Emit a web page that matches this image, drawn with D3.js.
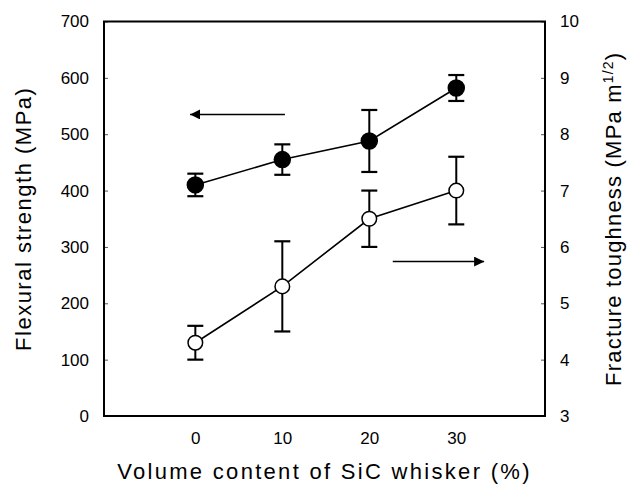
<!DOCTYPE html>
<html>
<head>
<meta charset="utf-8">
<script src="https://cdn.jsdelivr.net/npm/d3@7"></script>
<style>
  body { margin: 0; background: #fff; }
  text { font-family: Arial, "Liberation Sans", sans-serif; fill: #000; }
</style>
</head>
<body>
<div id="chart"></div>
<script>
// values
var categories = [0, 10, 20, 30];
var strength = [410, 455, 488, 582];
var strengthErr = [20, 27, 55, 23];
var toughness = [4.3, 5.3, 6.5, 7.0];
var toughnessErr = [0.3, 0.8, 0.5, 0.6];
var leftTicks = [0, 100, 200, 300, 400, 500, 600, 700];
var rightTicks = [3, 4, 5, 6, 7, 8, 9, 10];

var width = 629, height = 485;
var box = {left: 104, right: 545, top: 21.5, bottom: 416};

var svg = d3.select('#chart').append('svg')
  .attr('width', width)
  .attr('height', height);

svg.append('rect').attr('width', width).attr('height', height).attr('fill', '#fff');

var x = d3.scaleLinear().domain([-10.5, 40.2]).range([box.left, box.right]);
var yL = d3.scaleLinear().domain([0, 700]).range([box.bottom, box.top]);
var yR = d3.scaleLinear().domain([3, 10]).range([box.bottom, box.top]);

// axes
var axL = svg.append('g').attr('transform', 'translate(' + box.left + ',0)')
  .call(d3.axisLeft(yL).tickValues(leftTicks).tickSize(-4).tickPadding(15).tickFormat(d3.format('d')));
var axR = svg.append('g').attr('transform', 'translate(' + box.right + ',0)')
  .call(d3.axisRight(yR).tickValues(rightTicks).tickSize(-4).tickPadding(15).tickFormat(d3.format('d')));
var axB = svg.append('g').attr('transform', 'translate(0,' + box.bottom + ')')
  .call(d3.axisBottom(x).tickValues(categories).tickSize(0).tickPadding(16).tickFormat(d3.format('d')));

[axL, axR, axB].forEach(function(a) {
  a.select('.domain').remove();
  a.selectAll('line').attr('stroke', '#555').attr('stroke-width', 1);
  a.selectAll('text').style('font-size', '17px').attr('font-family', null);
});

// frame
svg.append('rect')
  .attr('x', box.left).attr('y', box.top)
  .attr('width', box.right - box.left).attr('height', box.bottom - box.top)
  .attr('fill', 'none').attr('stroke', '#000').attr('stroke-width', 2);

// titles
svg.append('text')
  .attr('x', (box.left + box.right) / 2).attr('y', 479)
  .attr('text-anchor', 'middle')
  .style('font-size', '22px').style('letter-spacing', '2.3px')
  .text('Volume content of SiC whisker (%)');

svg.append('text')
  .attr('transform', 'translate(31,' + (box.top + box.bottom) / 2 + ') rotate(-90)')
  .attr('text-anchor', 'middle')
  .style('font-size', '22px').style('letter-spacing', '1.5px')
  .text('Flexural  strength (MPa)');

var rt = svg.append('text')
  .attr('transform', 'translate(621,' + (box.top + box.bottom) / 2 + ') rotate(-90)')
  .attr('text-anchor', 'middle')
  .style('font-size', '22px').style('letter-spacing', '1.2px');
rt.append('tspan').text('Fracture toughness (MPa m');
rt.append('tspan').attr('dy', -8).style('font-size', '14px').text('1/2');
rt.append('tspan').attr('dy', 8).text(')');

// arrows
var defs = svg.append('defs');
defs.append('marker').attr('id', 'head')
  .attr('viewBox', '0 0 10 10').attr('refX', 10).attr('refY', 5)
  .attr('markerWidth', 10).attr('markerHeight', 10)
  .attr('markerUnits', 'userSpaceOnUse').attr('orient', 'auto')
  .append('path').attr('d', 'M0,0L10,5L0,10Z').attr('fill', '#000');

svg.append('line')
  .attr('x1', x(10.3)).attr('x2', x(-0.6)).attr('y1', yL(535)).attr('y2', yL(535))
  .attr('stroke', '#000').attr('stroke-width', 1.5).attr('marker-end', 'url(#head)');
svg.append('line')
  .attr('x1', x(22.7)).attr('x2', x(33.2)).attr('y1', yR(5.74)).attr('y2', yR(5.74))
  .attr('stroke', '#000').attr('stroke-width', 1.5).attr('marker-end', 'url(#head)');

// series
function series(vals, errs, y, filled) {
  var pts = categories.map(function(c, i) { return {x: c, v: vals[i], e: errs[i]}; });
  var g = svg.append('g');
  g.append('path')
    .datum(pts)
    .attr('d', d3.line().x(function(d) { return x(d.x); }).y(function(d) { return y(d.v); }))
    .attr('fill', 'none').attr('stroke', '#000').attr('stroke-width', 1.6);
  var eb = g.selectAll('.eb').data(pts).enter().append('g').attr('class', 'eb');
  eb.append('line')
    .attr('x1', function(d) { return x(d.x); }).attr('x2', function(d) { return x(d.x); })
    .attr('y1', function(d) { return y(d.v + d.e); }).attr('y2', function(d) { return y(d.v - d.e); })
    .attr('stroke', '#000').attr('stroke-width', 2);
  [1, -1].forEach(function(s) {
    eb.append('line')
      .attr('x1', function(d) { return x(d.x) - 8; }).attr('x2', function(d) { return x(d.x) + 8; })
      .attr('y1', function(d) { return y(d.v + s * d.e); }).attr('y2', function(d) { return y(d.v + s * d.e); })
      .attr('stroke', '#000').attr('stroke-width', 2.2);
  });
  g.selectAll('circle').data(pts).enter().append('circle')
    .attr('cx', function(d) { return x(d.x); })
    .attr('cy', function(d) { return y(d.v); })
    .attr('r', filled ? 8 : 7.3)
    .attr('fill', filled ? '#000' : '#fff')
    .attr('stroke', '#000').attr('stroke-width', 1.5);
}

series(toughness, toughnessErr, yR, false);
series(strength, strengthErr, yL, true);
</script>
</body>
</html>
